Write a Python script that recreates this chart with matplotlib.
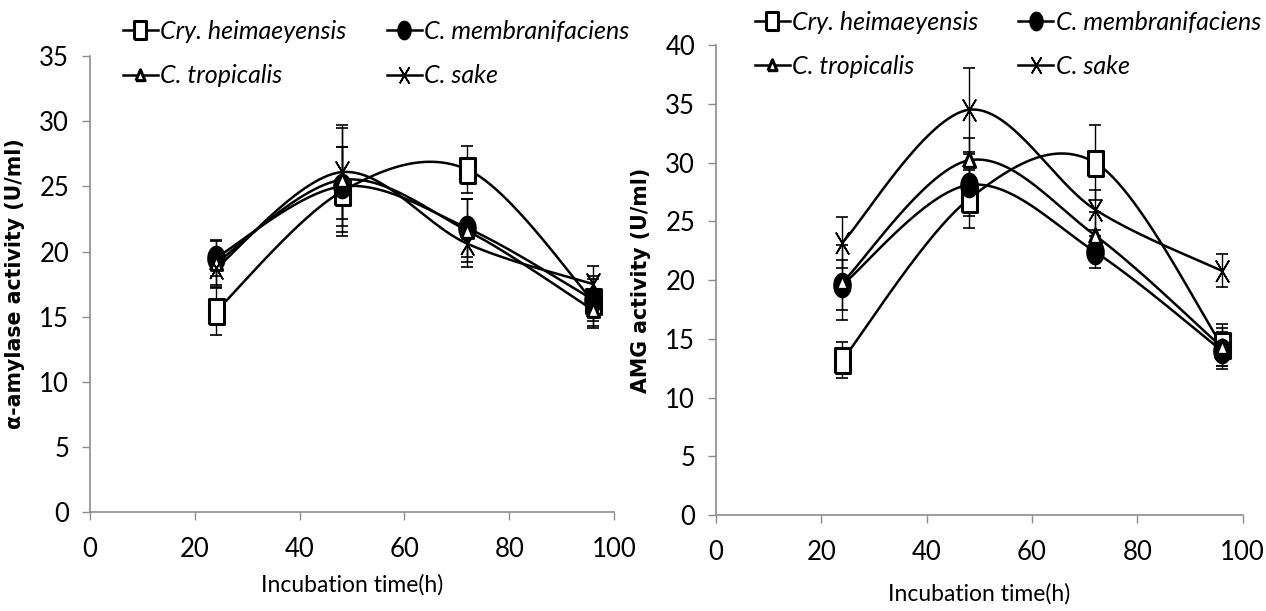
import matplotlib
matplotlib.use("Agg")
import matplotlib.pyplot as plt
import numpy as np
from matplotlib.lines import Line2D

# incubation time (h)
hours = [24, 48, 72, 96]
names = ["Cry. heimaeyensis", "C. membranifaciens", "C. tropicalis", "C. sake"]

# alpha-amylase activity (U/ml)
amy_cry = [15.4, 24.6, 26.3, 16.2]
amy_mem = [19.5, 25.0, 21.8, 16.3]
amy_tro = [19.1, 25.5, 21.6, 15.5]
amy_sak = [18.7, 26.1, 20.6, 17.5]
amy_cry_err = [1.8, 3.4, 1.8, 1.9]
amy_mem_err = [1.4, 3.0, 2.2, 1.6]
amy_tro_err = [1.7, 4.0, 2.4, 1.4]
amy_sak_err = [1.4, 3.6, 1.8, 1.4]

# AMG activity (U/ml)
amg_cry = [13.2, 26.9, 30.0, 14.5]
amg_mem = [19.6, 28.1, 22.4, 14.0]
amg_tro = [19.8, 30.2, 23.8, 14.3]
amg_sak = [23.2, 34.5, 26.0, 20.8]
amg_cry_err = [1.5, 2.5, 3.2, 1.8]
amg_mem_err = [2.1, 2.6, 1.4, 1.6]
amg_tro_err = [3.2, 1.9, 2.0, 1.6]
amg_sak_err = [2.2, 3.6, 1.7, 1.4]

NARROW = ["Lato", "DejaVu Sans"]
GRAY = "#8c8c8c"

# tall marker shapes
m_square = [(-0.6, -1), (0.6, -1), (0.6, 1), (-0.6, 1), (-0.6, -1)]
tt = np.linspace(0, 2 * np.pi, 40)
m_circle = list(zip(0.7 * np.cos(tt), np.sin(tt)))
m_tri = [(-0.8, -0.9), (0.8, -0.9), (0, 1.0), (-0.8, -0.9)]
m_x = [(-0.6, -1), (0.6, 1), (0, 0), (-0.6, 1), (0.6, -1), (0, 0), (-0.6, -1)]

styles = [
    dict(marker=m_square, ms=18, mfc="white", mec="black", mew=2.2),
    dict(marker=m_circle, ms=17, mfc="black", mec="black", mew=1.5),
    dict(marker=m_tri, ms=11, mfc="white", mec="black", mew=2.2),
    dict(marker=m_x, ms=15, mfc="none", mec="black", mew=1.2),
]


def smooth(x, y, n=60):
    # bezier curve through the points, same shape as a spreadsheet "smoothed line"
    pts = np.column_stack([x, y]).astype(float)
    P = np.vstack([pts[0], pts, pts[-1]])
    t = np.linspace(0, 1, n)[:, None]
    segs = []
    for i in range(len(pts) - 1):
        p0, p1, p2, p3 = P[i], P[i + 1], P[i + 2], P[i + 3]
        c1 = p1 + (p2 - p0) / 6
        c2 = p2 - (p3 - p1) / 6
        segs.append((1 - t) ** 3 * p1 + 3 * (1 - t) ** 2 * t * c1
                    + 3 * (1 - t) * t ** 2 * c2 + t ** 3 * p2)
    return np.vstack(segs)


def panel(ax, series, errors, ymax, ylabel, xlabelpad):
    for ys, es, st in zip(series, errors, styles):
        c = smooth(hours, ys)
        ax.plot(c[:, 0], c[:, 1], color="black", lw=1.8, zorder=3)
        ax.errorbar(hours, ys, yerr=es, fmt="none", ecolor="black",
                    elinewidth=1.0, capsize=4, capthick=1.2, zorder=2)
        ax.plot(hours, ys, ls="none", zorder=4, **st)
    ax.set_xlim(0, 100)
    ax.set_ylim(0, ymax)
    ax.set_xticks(range(0, 101, 20))
    ax.set_yticks(range(0, ymax + 1, 5))
    for s in ["top", "right"]:
        ax.spines[s].set_visible(False)
    for s in ["left", "bottom"]:
        ax.spines[s].set_color(GRAY)
        ax.spines[s].set_linewidth(1.2)
    ax.tick_params(axis="both", colors=GRAY, labelcolor="black", direction="out",
                   length=6, width=1)
    ax.tick_params(axis="x", pad=12)
    ax.tick_params(axis="y", pad=9)
    for lab in ax.get_xticklabels() + ax.get_yticklabels():
        lab.set_family(NARROW)
        lab.set_fontsize(18.5)
    ax.set_xlabel("Incubation time(h)", family=NARROW, fontsize=16.5,
                  labelpad=xlabelpad)
    ax.set_ylabel(ylabel, family="DejaVu Sans", fontweight="bold", fontsize=14.8,
                  labelpad=10)


fig = plt.figure(figsize=(12.66, 6.11), dpi=100)
ax1 = fig.add_axes([0.0711, 0.162, 0.414, 0.746])
ax2 = fig.add_axes([0.5656, 0.157, 0.416, 0.769])

panel(ax1, [amy_cry, amy_mem, amy_tro, amy_sak],
      [amy_cry_err, amy_mem_err, amy_tro_err, amy_sak_err], 35,
      "α-amylase activity (U/ml)", 9)
panel(ax2, [amg_cry, amg_mem, amg_tro, amg_sak],
      [amg_cry_err, amg_mem_err, amg_tro_err, amg_sak_err], 40,
      "AMG activity (U/ml)", 13)

handles = [Line2D([], [], color="black", lw=1.8, **st) for st in styles]
# order so that the two columns read: Cry | membranifaciens, tropicalis | sake
order = [0, 2, 1, 3]
for ax, anchor in [(ax1, (0.097, 0.967)), (ax2, (0.596, 0.982))]:
    ax.legend([handles[i] for i in order], [names[i] for i in order], ncol=2,
              loc="upper left", bbox_to_anchor=anchor, bbox_transform=fig.transFigure,
              frameon=False, borderpad=0, borderaxespad=0, handlelength=1.4,
              handletextpad=0.1, columnspacing=1.6, labelspacing=0.85,
              markerscale=0.75,
              prop=dict(family=NARROW, style="italic", size=18))

fig.savefig("out.png", dpi=100, facecolor="white")
